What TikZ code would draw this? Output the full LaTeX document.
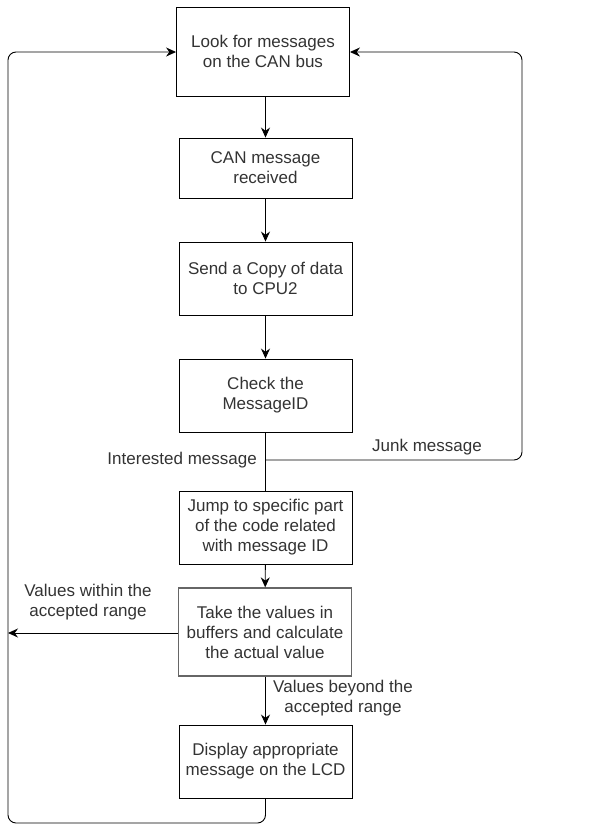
\documentclass[tikz,border=0pt]{standalone}
\usepackage{fontspec}
\setmainfont{Liberation Sans}
\usetikzlibrary{arrows.meta}
\definecolor{txt}{HTML}{333333}
\tikzset{
  box/.style={draw=black, line width=0.9pt, rectangle, minimum width=173pt, inner sep=2pt,
    align=center, text=txt, font=\fontsize{17}{20}\selectfont},
  conn/.style={draw=black, line width=0.9pt},
  arr/.style={conn, -{Stealth[length=10pt,width=9pt]}},
  lbl/.style={text=txt, font=\fontsize{17}{20}\selectfont, align=center, inner sep=1pt}
}
\begin{document}
\begin{tikzpicture}[x=1pt,y=-1pt]
\useasboundingbox (0,0) rectangle (592,825);
\node[box, minimum height=89pt] (b1) at (263,51.5) {Look for messages\\on the CAN bus};
\node[box, minimum height=60pt] (b2) at (265.5,168) {CAN message\\received};
\node[box, minimum height=73pt] (b3) at (265.5,278.5) {Send a Copy of data\\to CPU2};
\node[box, minimum height=73pt] (b4) at (265.5,395.5) {Check the\\MessageID};
\node[box, minimum height=73pt] (b5) at (265.5,527.5) {Jump to specific part\\of the code related\\with message ID};
\node[box, minimum height=88pt, draw=black!60, line width=1.3pt] (b6) at (265,632) {Take the values in\\buffers and calculate\\the actual value};
\node[box, minimum height=73pt] (b7) at (265.5,761.5) {Display appropriate\\message on the LCD};

\coordinate (j) at (265.5,460);
\coordinate (lx) at (8,633);

\draw[arr] (b1.south -| b2) -- (b2.north);
\draw[arr] (b2) -- (b3);
\draw[arr] (b3) -- (b4);
\draw[conn] (b4.south) -- (b5.north);
\draw[arr] (b5) -- (b6);
\draw[arr] (b6.south -| b7) -- (b7.north);
\draw[arr] (b6.west |- lx) -- (lx);
\draw[arr, rounded corners=8pt] (j) -- (522,460) -- (522,52) -- (b1.east |- 0,52);
\draw[arr, rounded corners=8pt] (b7.south) -- (265.5,823) -- (8,823) -- (8,52) -- (b1.west |- 0,52);

\node[lbl, anchor=east] (li) at (258,460) {Interested message};
\node[lbl] (lj) at (427,447) {Junk message};
\node[lbl] (lw) at (88,602) {Values within the\\accepted range};
\node[lbl] (lb) at (343,698) {Values beyond the\\accepted range};
\end{tikzpicture}
\end{document}
